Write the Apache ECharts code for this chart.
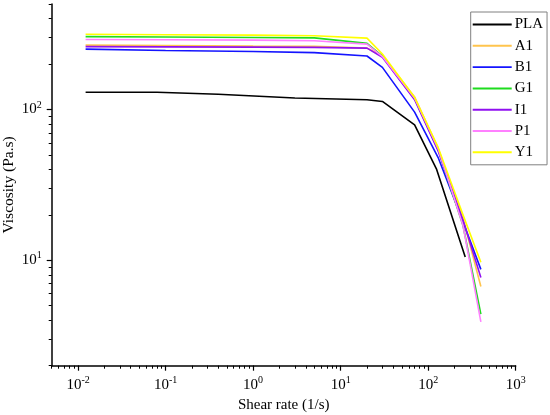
<!DOCTYPE html>
<html>
<head>
<meta charset="utf-8">
<script src="https://cdn.jsdelivr.net/npm/echarts@6/dist/echarts.min.js"></script>
<style>html,body{margin:0;padding:0;background:#fff}#c{width:550px;height:415px}</style>
</head>
<body>
<div id="c"></div>
<script>
// Shear rates (1/s)
const shearPLA = [0.0122, 0.08, 0.4, 3, 20, 30, 70, 125, 265];
const shearOther = [0.0122, 0.1, 1, 5, 20, 30, 70, 130, 250, 400];
// Viscosity (Pa.s)
const PLA = [130, 130, 126, 119, 116, 113, 79, 40, 10.5];
const A1 = [267, 265, 263, 262, 255, 228, 121, 55, 19, 6.7];
const B1 = [251, 246, 242, 238, 226, 190, 96, 48, 18, 8.7];
const G1 = [304, 302, 300, 298, 274, 226, 118, 54, 17, 4.4];
const I1 = [261, 260, 259, 258, 255, 222, 116, 53, 18.5, 7.7];
const P1 = [291, 290, 288, 285, 271, 224, 119, 55, 17, 3.9];
const Y1 = [315, 313, 311, 308, 297, 233, 120, 56, 20, 9.7];

const xMajor = [0.01, 0.1, 1, 10, 100, 1000];
const yMajor = [10, 100];

const names = ['PLA', 'A1', 'B1', 'G1', 'I1', 'P1', 'Y1'];
const colors = ['#000000', '#FFC44D', '#1414FF', '#1EDC1E', '#9010F0', '#FF80FF', '#FFFF00'];
const values = [PLA, A1, B1, G1, I1, P1, Y1];

function minorTicks(lo, hi) {
  const out = [];
  for (let e = -3; e <= 3; e++) {
    for (let k = 1; k <= 9; k++) {
      const v = +(k * Math.pow(10, e)).toPrecision(6);
      if (v >= lo - 1e-12 && v <= hi + 1e-9) out.push(v);
    }
  }
  return out;
}
const font = 'Liberation Serif';
const supLabel = v => '10{s|' + Math.round(Math.log10(v)) + '}';
const rich = { s: { fontSize: 10, fontFamily: font, color: '#000', padding: [0, 0, 9, 0] } };

const series = names.map((n, i) => {
  const xs = i === 0 ? shearPLA : shearOther;
  return {
    name: n, type: 'line', symbol: 'none', smooth: false,
    lineStyle: { width: 1.6, color: colors[i] }, itemStyle: { color: colors[i] },
    data: values[i].map((v, j) => [xs[j], v])
  };
});

const chart = echarts.init(document.getElementById('c'), null, { renderer: 'canvas' });
chart.setOption({
  animation: false,
  backgroundColor: '#fff',
  grid: { left: 51.7, right: 34.3, top: 4, bottom: 49.3, containLabel: false, outerBoundsMode: 'none' },
  legend: {
    orient: 'vertical', left: 470.7, top: 12,
    padding: [5, 4, 5, 2], itemWidth: 39, itemHeight: 14, itemGap: 6.3,
    icon: 'path://M0,0H40V2H0Z',
    borderColor: '#808080', borderWidth: 1,
    textStyle: { fontFamily: font, fontSize: 15, color: '#000', padding: [0, 0, 0, -2] },
    data: names
  },
  xAxis: [{
    type: 'log', min: 0.005, max: 1000,
    name: 'Shear rate (1/s)', nameLocation: 'middle', nameGap: 30,
    nameTextStyle: { fontFamily: font, fontSize: 15, color: '#000' },
    axisLine: { lineStyle: { color: '#000', width: 1.5 } },
    axisTick: { length: 5, inside: false, customValues: xMajor, lineStyle: { color: '#000', width: 1.2 } },
    axisLabel: { customValues: xMajor, margin: 10, fontFamily: font, fontSize: 15, color: '#000', formatter: supLabel, rich: rich },
    splitLine: { show: false }
  }, {
    type: 'log', min: 0.005, max: 1000, position: 'bottom', gridIndex: 0,
    axisLine: { show: false },
    axisTick: { length: 3, customValues: minorTicks(0.005, 1000), lineStyle: { color: '#000', width: 1 } },
    axisLabel: { show: false }, splitLine: { show: false }
  }],
  yAxis: [{
    type: 'log', min: 2, max: 500,
    name: 'Viscosity (Pa.s)', nameLocation: 'middle', nameGap: 35, nameMoveOverlap: false,
    nameTextStyle: { fontFamily: font, fontSize: 15.5, color: '#000' },
    axisLine: { show: true, lineStyle: { color: '#000', width: 1.5 } },
    axisTick: { show: true, length: 5, customValues: yMajor, lineStyle: { color: '#000', width: 1.2 } },
    axisLabel: { customValues: yMajor, margin: 10, fontFamily: font, fontSize: 15, color: '#000', formatter: supLabel, rich: rich },
    splitLine: { show: false }
  }, {
    type: 'log', min: 2, max: 500, position: 'left', gridIndex: 0,
    axisLine: { show: false },
    axisTick: { show: true, length: 3, customValues: minorTicks(2, 500), lineStyle: { color: '#000', width: 1 } },
    axisLabel: { show: false }, splitLine: { show: false }
  }],
  series: series
});
</script>
</body>
</html>
